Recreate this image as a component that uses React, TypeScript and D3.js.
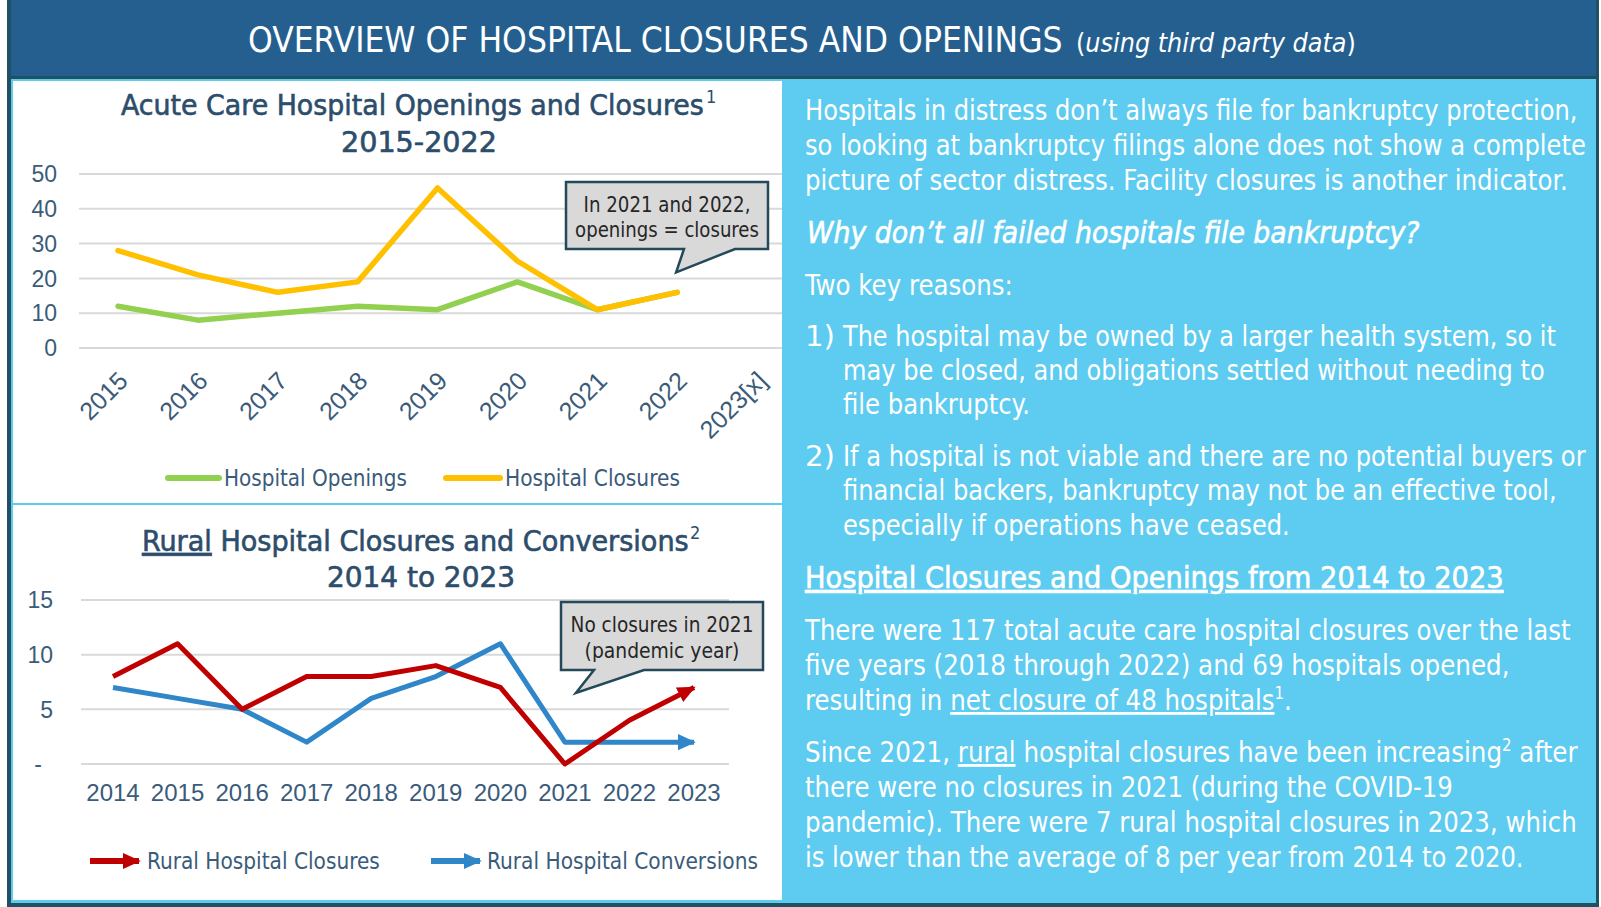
import { useLayoutEffect, useRef } from 'react'
import * as d3 from 'd3'

// Acute care chart (top left)
const acuteYears = ['2015', '2016', '2017', '2018', '2019', '2020', '2021', '2022', '2023[x]']
const hospitalOpenings = [12, 8, 10, 12, 11, 19, 11, 16]
const hospitalClosures = [28, 21, 16, 19, 46, 25, 11, 16]
const acuteTicks = [0, 10, 20, 30, 40, 50]

// Rural chart (bottom left)
const ruralYears = ['2014', '2015', '2016', '2017', '2018', '2019', '2020', '2021', '2022', '2023']
const ruralClosures = [8, 11, 5, 8, 8, 9, 7, 0, 4, 7]
const ruralConversions = [7, 6, 5, 2, 6, 8, 11, 2, 2, 2]
const ruralTicks = [0, 5, 10, 15]

const FONT = '"Liberation Sans Narrow", "Arial Narrow", "DejaVu Sans Condensed", sans-serif'
const DIGITS = '"Liberation Sans", Arial, sans-serif'
const TITLE = '#2c4d6b'
const TICK = '#3a5b7a'
const GRID = '#d9d9d9'
const GREEN = '#92d050'
const YELLOW = '#ffc000'
const RED = '#c00000'
const BLUE = '#2f86c8'
const DARK = '#1f5163'
const HEADER = '#245f8f'
const PANEL = '#5ecbf0'
const CALLOUT = '#d9d9d9'
const CALLOUT_STROKE = '#23495a'

// right panel body lines: [text, x, baseline, width]
const rightLines: [string, number, number, number][] = [
  ['Hospitals in distress don\u2019t always file for bankruptcy protection,', 805, 120, 773],
  ['so looking at bankruptcy filings alone does not show a complete', 805, 155, 781],
  ['picture of sector distress. Facility closures is another indicator.', 805, 190, 763],
  ['Two key reasons:', 805, 295, 208],
  ['The hospital may be owned by a larger health system, so it', 843, 346, 713],
  ['may be closed, and obligations settled without needing to', 843, 380, 702],
  ['file bankruptcy.', 843, 414, 187],
  ['If a hospital is not viable and there are no potential buyers or', 843, 466, 743],
  ['financial backers, bankruptcy may not be an effective tool,', 843, 500, 714],
  ['especially if operations have ceased.', 843, 535, 447],
  ['There were 117 total acute care hospital closures over the last', 805, 640, 766],
  ['five years (2018 through 2022) and 69 hospitals opened,', 805, 675, 705],
  ['there were no closures in 2021 (during the COVID-19', 805, 797, 648],
  ['pandemic). There were 7 rural hospital closures in 2023, which', 805, 832, 772],
  ['is lower than the average of 8 per year from 2014 to 2020.', 805, 867, 719],
]

function Fit({ x, y, w, size, anchor = 'start', fill, italic, underline, heavy, children }: {
  x: number, y: number, w: number, size: number, anchor?: string, fill: string,
  italic?: boolean, underline?: boolean, heavy?: boolean, children: any
}) {
  return (
    <text x={x} y={y} data-w={w} data-ax={x} textAnchor={anchor} fontFamily={FONT} fontSize={size} fill={fill}
      stroke={heavy ? fill : undefined} strokeWidth={heavy ? 0.6 : undefined}
      fontStyle={italic ? 'italic' : undefined} textDecoration={underline ? 'underline' : undefined}>
      {children}
    </text>
  )
}

function Callout({ box, base, tip, lines }: {
  box: [number, number, number, number]
  base: [number, number]
  tip: [number, number]
  lines: [string, number, number][]
}) {
  const [x0, y0, x1, y1] = box
  const path = d3.path()
  path.moveTo(x0, y0)
  path.lineTo(x1, y0)
  path.lineTo(x1, y1)
  path.lineTo(base[1], y1)
  path.lineTo(tip[0], tip[1])
  path.lineTo(base[0], y1)
  path.lineTo(x0, y1)
  path.closePath()
  const cx = (x0 + x1) / 2
  return (
    <g>
      <path d={path.toString()} fill={CALLOUT} stroke={CALLOUT_STROKE} strokeWidth={2.5} />
      {lines.map(([t, y, len]) => (
        <Fit key={t} x={cx} y={y} w={len} size={21} anchor="middle" fill="#262626">{t}</Fit>
      ))}
    </g>
  )
}

function AcuteChart() {
  const x = d3.scalePoint<string>().domain(acuteYears).range([118, 757])
  const y = d3.scaleLinear().domain([0, 50]).range([348, 174])
  const line = d3.line<number>()
    .x((_, i) => x(acuteYears[i])!)
    .y(d => y(d))
  return (
    <g>
      <Fit x={121} y={115} w={583} size={29} fill={TITLE} heavy>Acute Care Hospital Openings and Closures</Fit>
      <text x={706} y={103} fontFamily={FONT} fontSize={18} fill={TITLE}>1</text>
      <Fit x={419} y={152} w={156} size={29} anchor="middle" fill={TITLE} heavy>2015-2022</Fit>
      {acuteTicks.map(t => (
        <g key={t}>
          <line x1={79} x2={782} y1={y(t)} y2={y(t)} stroke={GRID} strokeWidth={2} />
          <text x={57} y={y(t)} dy="0.36em" textAnchor="end" fontFamily={DIGITS} fontSize={23} fill={TICK}>{t}</text>
        </g>
      ))}
      {acuteYears.map(yr => (
        <text key={yr} transform={`translate(${x(yr)! + 5},376) rotate(-45)`} dy="0.36em" textAnchor="end"
          fontFamily={DIGITS} fontSize={25} fill={TICK}>{yr}</text>
      ))}
      <path d={line(hospitalOpenings)!} fill="none" stroke={GREEN} strokeWidth={5.5} strokeLinejoin="round" strokeLinecap="round" />
      <path d={line(hospitalClosures)!} fill="none" stroke={YELLOW} strokeWidth={5.5} strokeLinejoin="round" strokeLinecap="round" />
      <Callout
        box={[566, 182, 768, 249]}
        base={[684, 735]}
        tip={[x('2022')! - 1, y(16) - 20]}
        lines={[['In 2021 and 2022,', 212, 167], ['openings = closures', 237, 184]]}
      />
      {/* legend */}
      <line x1={168} x2={219} y1={478} y2={478} stroke={GREEN} strokeWidth={6} strokeLinecap="round" />
      <Fit x={224} y={486} w={183} size={23} fill={TICK}>Hospital Openings</Fit>
      <line x1={446} x2={500} y1={478} y2={478} stroke={YELLOW} strokeWidth={6} strokeLinecap="round" />
      <Fit x={505} y={486} w={175} size={23} fill={TICK}>Hospital Closures</Fit>
    </g>
  )
}

function RuralChart() {
  const x = d3.scalePoint<string>().domain(ruralYears).range([113, 694])
  const y = d3.scaleLinear().domain([0, 15]).range([764, 600])
  const line = d3.line<number>()
    .x((_, i) => x(ruralYears[i])!)
    .y(d => y(d))
  return (
    <g>
      <defs>
        <marker id="arrowRed" viewBox="0 0 10 10" refX={9} refY={5} markerUnits="userSpaceOnUse"
          markerWidth={18} markerHeight={18} orient="auto">
          <path d="M0,0.5 L10,5 L0,9.5 Z" fill={RED} />
        </marker>
        <marker id="arrowBlue" viewBox="0 0 10 10" refX={9} refY={5} markerUnits="userSpaceOnUse"
          markerWidth={18} markerHeight={18} orient="auto">
          <path d="M0,0.5 L10,5 L0,9.5 Z" fill={BLUE} />
        </marker>
      </defs>
      <Fit x={142} y={551} w={547} size={29} fill={TITLE} heavy>
        <tspan textDecoration="underline">Rural</tspan> Hospital Closures and Conversions
      </Fit>
      <text x={690} y={539} fontFamily={FONT} fontSize={18} fill={TITLE}>2</text>
      <Fit x={421} y={587} w={188} size={29} anchor="middle" fill={TITLE} heavy>2014 to 2023</Fit>
      {ruralTicks.map(t => (
        <g key={t}>
          <line x1={81} x2={729} y1={y(t)} y2={y(t)} stroke={GRID} strokeWidth={2} />
          <text x={t === 0 ? 42 : 53} y={y(t)} dy="0.36em" textAnchor="end" fontFamily={DIGITS} fontSize={23} fill={TICK}>
            {t === 0 ? '-' : t}
          </text>
        </g>
      ))}
      {ruralYears.map(yr => (
        <text key={yr} x={x(yr)} y={801} textAnchor="middle" fontFamily={DIGITS} fontSize={24} fill={TICK}>{yr}</text>
      ))}
      <path d={line(ruralConversions)!} fill="none" stroke={BLUE} strokeWidth={5} strokeLinejoin="round" markerEnd="url(#arrowBlue)" />
      <path d={line(ruralClosures)!} fill="none" stroke={RED} strokeWidth={5} strokeLinejoin="round" markerEnd="url(#arrowRed)" />
      <Callout
        box={[561, 602, 763, 670]}
        base={[594, 644]}
        tip={[x('2021')! + 11, y(6.5)]}
        lines={[['No closures in 2021', 632, 183], ['(pandemic year)', 658, 155]]}
      />
      {/* legend */}
      <line x1={90} x2={139} y1={861} y2={861} stroke={RED} strokeWidth={6} markerEnd="url(#arrowRed)" />
      <Fit x={147} y={869} w={233} size={23} fill={TICK}>Rural Hospital Closures</Fit>
      <line x1={431} x2={480} y1={861} y2={861} stroke={BLUE} strokeWidth={6} markerEnd="url(#arrowBlue)" />
      <Fit x={487} y={869} w={271} size={23} fill={TICK}>Rural Hospital Conversions</Fit>
    </g>
  )
}

function RightPanel() {
  return (
    <g>
      {rightLines.map(([t, x, y, len]) => (
        <Fit key={t} x={x} y={y} w={len} size={28} fill="#ffffff">{t}</Fit>
      ))}
      <Fit x={807} y={243} w={613} size={31} fill="#ffffff" italic heavy>
        Why don&rsquo;t all failed hospitals file bankruptcy?
      </Fit>
      <Fit x={805} y={346} w={30} size={28} fill="#ffffff">1)</Fit>
      <Fit x={805} y={466} w={30} size={28} fill="#ffffff">2)</Fit>
      <Fit x={805} y={588} w={699} size={30} fill="#ffffff" underline heavy>
        Hospital Closures and Openings from 2014 to 2023
      </Fit>
      <Fit x={805} y={710} w={487} size={28} fill="#ffffff">
        resulting in <tspan textDecoration="underline">net closure of 48 hospitals</tspan>
        <tspan dy={-11} fontSize={17}>1</tspan><tspan dy={11}>.</tspan>
      </Fit>
      <Fit x={805} y={762} w={773} size={28} fill="#ffffff">
        Since 2021, <tspan textDecoration="underline">rural</tspan> hospital closures have been increasing
        <tspan dy={-11} fontSize={17}>2</tspan><tspan dy={11}> after</tspan>
      </Fit>
    </g>
  )
}

export default function App() {
  const svgRef = useRef<SVGSVGElement>(null)

  // squeeze every text to its reference width around its anchor point
  useLayoutEffect(() => {
    if (!svgRef.current) return
    d3.select(svgRef.current).selectAll<SVGTextElement, unknown>('text[data-w]').each(function () {
      const w = +this.getAttribute('data-w')!
      const ax = +this.getAttribute('data-ax')!
      const len = this.getComputedTextLength()
      if (len > 0) this.setAttribute('transform', `translate(${ax},0) scale(${w / len},1) translate(${-ax},0)`)
    })
  }, [])

  return (
    <svg ref={svgRef} width={1601} height={907} style={{ position: 'absolute', left: 0, top: 0, background: '#fff' }}>
      <rect x={7} y={0} width={1592} height={907} fill={DARK} />
      <rect x={11} y={0} width={1585} height={76} fill={HEADER} />
      <rect x={11} y={79} width={1585} height={824} fill={PANEL} />
      <rect x={13} y={81} width={769} height={422} fill="#ffffff" />
      <rect x={13} y={505} width={769} height={395} fill="#ffffff" />
      <Fit x={248} y={52} w={815} size={35} fill="#ffffff">OVERVIEW OF HOSPITAL CLOSURES AND OPENINGS</Fit>
      <Fit x={1076} y={52} w={280} size={27} fill="#ffffff">
        (<tspan fontStyle="italic">using third party data</tspan>)
      </Fit>
      <AcuteChart />
      <RuralChart />
      <RightPanel />
    </svg>
  )
}
